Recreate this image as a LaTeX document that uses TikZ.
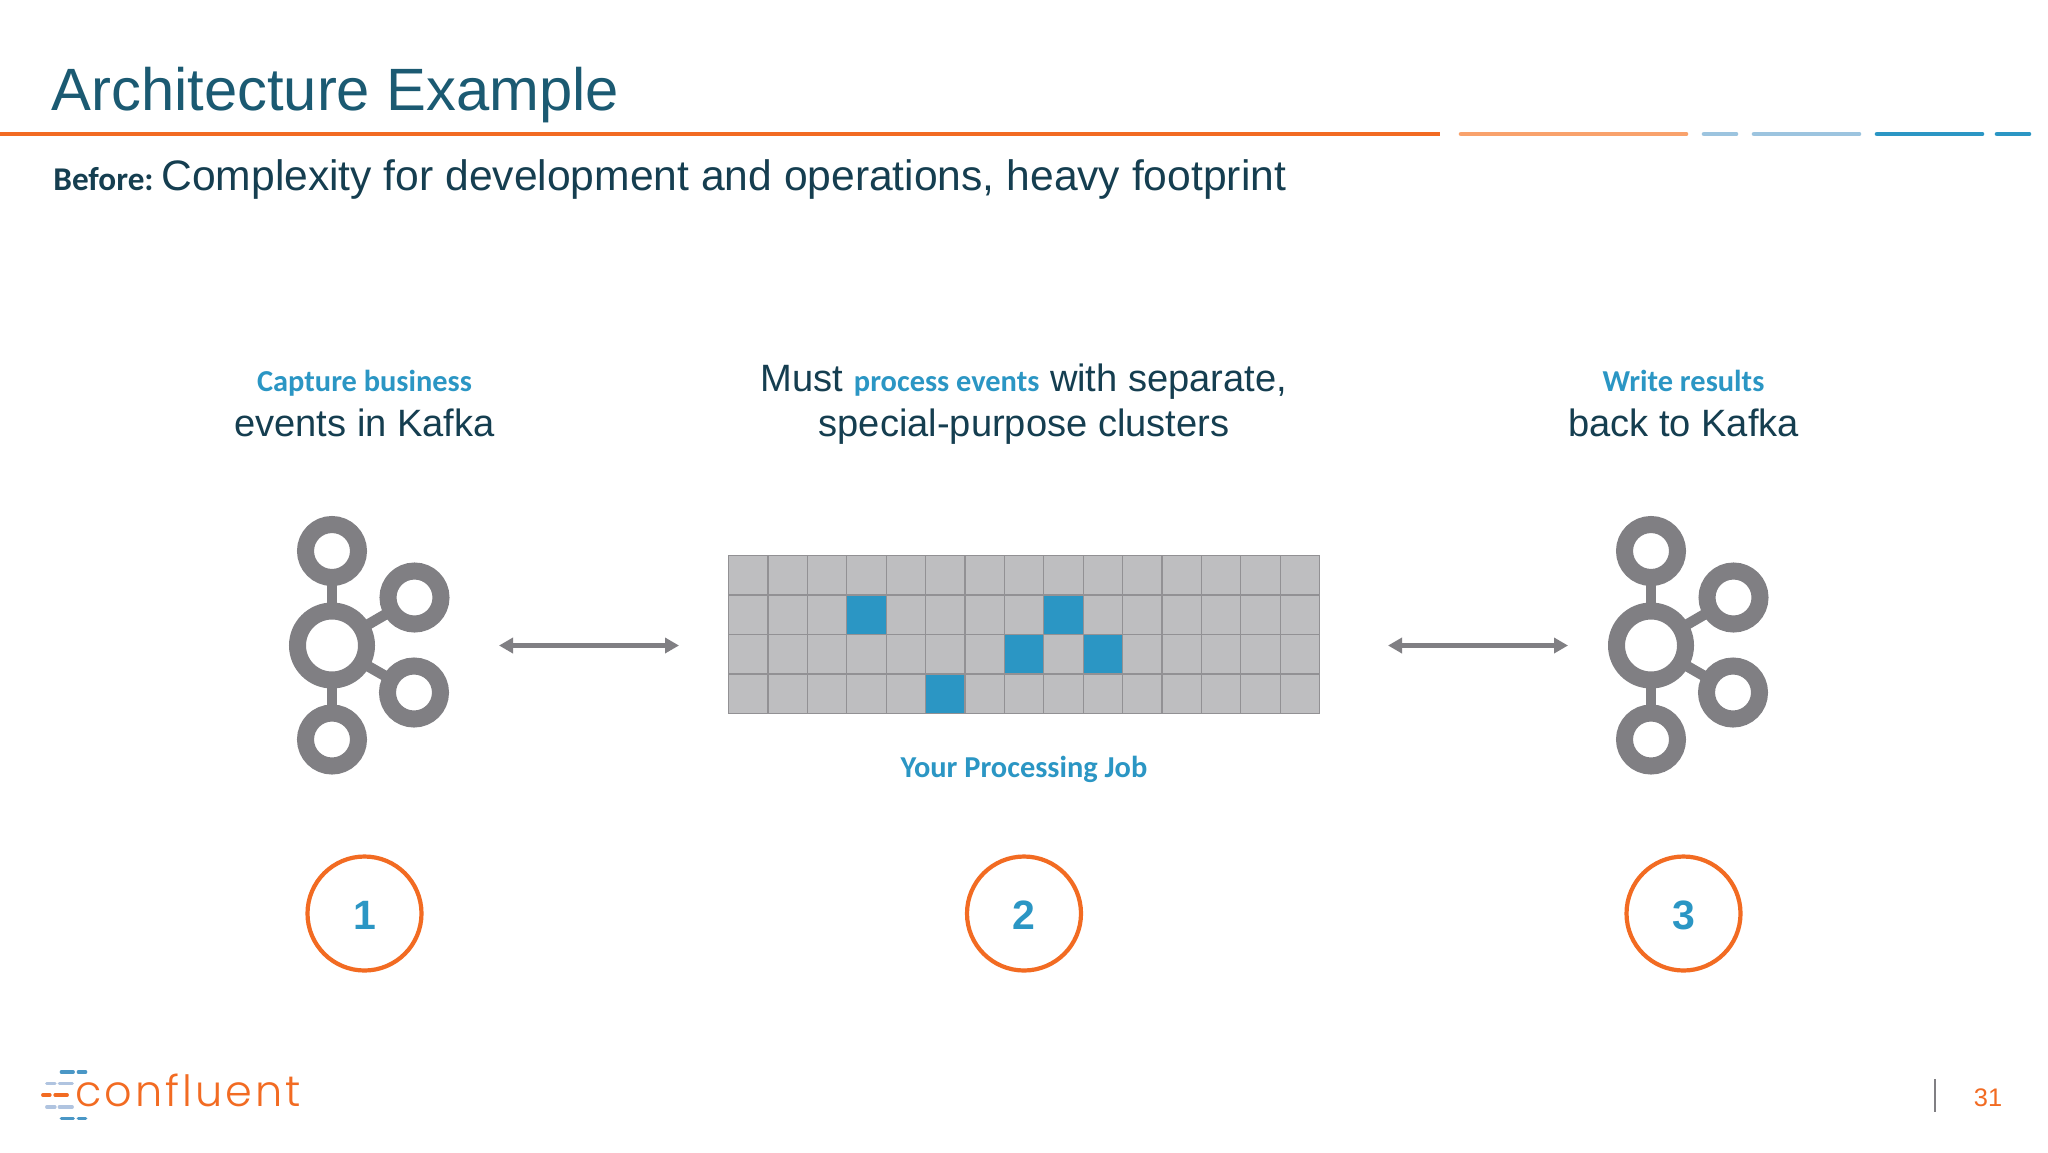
\documentclass[tikz,border=0pt]{standalone}
\usepackage{fontspec}
\setmainfont{Liberation Sans}
\newfontfamily\accentfont{Carlito}
\newfontfamily\logofont[UprightFont=* Light]{Poppins}
\usetikzlibrary{arrows.meta}
\definecolor{titleblue}{HTML}{1B5A72}
\definecolor{darktext}{HTML}{153E50}
\definecolor{accent}{HTML}{2B96C4}
\definecolor{orangeline}{HTML}{F26B22}
\definecolor{lightorange}{HTML}{F9A26C}
\definecolor{lightblue}{HTML}{9CC4DF}
\definecolor{logoblue}{HTML}{4A97C6}
\definecolor{logolight}{HTML}{B0C4E0}
\definecolor{iconline}{HTML}{807F83}
\definecolor{cellfill}{HTML}{BEBEC0}
\definecolor{cellline}{HTML}{929194}
\tikzset{
  ring/.style={circle,draw=iconline,line width=8.5pt,minimum size=26.5pt,inner sep=0pt,fill=white},
  hubring/.style={circle,draw=iconline,line width=8.5pt,minimum size=34.5pt,inner sep=0pt,fill=white},
  link/.style={draw=iconline,line width=5.3pt,shorten >=-2pt,shorten <=-2pt},
  pics/kafka/.style={code={
    \node[hubring] (hub) at (0,0) {};
    \node[ring] (top) at (0,-94.5) {};
    \node[ring] (bot) at (0,94) {};
    \node[ring] (rt) at (82.5,-48) {};
    \node[ring] (rb) at (82,47) {};
    \draw[link] (hub) -- (top);
    \draw[link] (hub) -- (bot);
    \draw[link] (hub) -- (rt);
    \draw[link] (hub) -- (rb);
  }},
  biarrow/.style={draw=iconline,line width=2.2pt,{Triangle[length=7pt,width=7.5pt]}-{Triangle[length=7pt,width=7.5pt]}},
  cell/.style={rectangle,draw=cellline,line width=.6pt,fill=cellfill,minimum width=19.7pt,minimum height=19.75pt,inner sep=0pt,outer sep=0pt},
  hotcell/.style={cell,fill=accent},
  numcircle/.style={circle,draw=orangeline,line width=2.1pt,minimum size=57pt,inner sep=0pt,outer sep=0pt,text=accent,font=\bfseries\fontsize{20.5}{24}\selectfont},
  numlabel/.style={inner sep=0pt,text=accent,font=\bfseries\fontsize{20.5}{24}\selectfont},
  barline/.style={line width=2.3pt,line cap=round},
  logodash/.style={line width=1.6pt,line cap=round},
  heading/.style={align=center,text=darktext,font=\fontsize{19.05}{23}\selectfont,inner sep=0pt},
}
\newcommand{\acc}[1]{{\accentfont\bfseries\color{accent}\fontsize{15.2}{23}\selectfont #1}}
\begin{document}
\begin{tikzpicture}[x=0.5pt,y=-0.5pt]
\useasboundingbox (0,0) rectangle (2048,1152);
\fill[white] (0,0) rectangle (2048,1152);

% title
\node[anchor=base west,inner sep=0pt,text=titleblue,font=\fontsize{29.87}{34}\selectfont] (title) at (51,110) {Architecture Example};
\coordinate (r0) at (0,134);\coordinate (r1) at (1440,134);
\coordinate (r2) at (1461,134);\coordinate (r3) at (1686,134);
\coordinate (r4) at (1704,134);\coordinate (r5) at (1736,134);
\coordinate (r6) at (1754,134);\coordinate (r7) at (1859,134);
\coordinate (r8) at (1877,134);\coordinate (r9) at (1982,134);
\coordinate (r10) at (1997,134);\coordinate (r11) at (2029,134);
\draw[barline,orangeline,line cap=butt] (r0) -- (r1);
\draw[barline,lightorange] (r2) -- (r3);
\draw[barline,lightblue] (r4) -- (r5);
\draw[barline,lightblue] (r6) -- (r7);
\draw[barline,accent] (r8) -- (r9);
\draw[barline,accent] (r10) -- (r11);
\node[anchor=base west,inner sep=0pt,text=darktext,font=\accentfont\bfseries\fontsize{16.6}{20}\selectfont] (before) at (53,190.5) {Before:};
\node[anchor=base west,inner sep=0pt,text=darktext,font=\fontsize{21.3}{25}\selectfont] (sub) at (161,190.5) {Complexity for development and operations, heavy footprint};

% headings
\node[heading,anchor=base] (h1) at (364.5,436.5) {\acc{Capture business}\\[-.6pt]events in Kafka};
\node[heading,anchor=base] (h2) at (1024,436.5) {Must \acc{process events} with separate,\\[-.6pt]special-purpose clusters};
\node[heading,anchor=base] (h3) at (1683.5,436.5) {\acc{Write results}\\[-.6pt]back to Kafka};

% icons
\pic (a) at (332,645.5) {kafka};
\pic (b) at (1651,645.5) {kafka};

% arrows
\coordinate (a1) at (499,645.5);\coordinate (a2) at (679,645.5);
\coordinate (b1) at (1388,645.5);\coordinate (b2) at (1568,645.5);
\draw[biarrow] (a1) -- (a2);
\draw[biarrow] (b1) -- (b2);

% grid
\foreach \r in {0,...,3}
  \foreach \c in {0,...,14}
    \node[cell] (c\r-\c) at ({748.2+39.4*\c},{575.3+39.5*\r}) {};
\foreach \r/\c in {1/3,1/8,2/7,2/9,3/5}
  \node[hotcell] (h\r-\c) at ({748.2+39.4*\c},{575.3+39.5*\r}) {};
\node[anchor=base,inner sep=0pt,font=\accentfont\bfseries\fontsize{15.2}{20}\selectfont,text=accent] (job) at (1024,777.5) {Your Processing Job};

% numbers
\node[numcircle] (n1) at (364.5,913.5) {};
\node[numcircle] (n2) at (1024,913.5) {};
\node[numcircle] (n3) at (1683.5,913.5) {};
\node[numlabel] (l1) at (364.5,915) {1};
\node[numlabel] (l2) at (1024,915) {2};
\node[numlabel] (l3) at (1683.5,915) {3};

% logo
\foreach \y/\col/\ax/\bx/\cx/\dx in {
  1072/logoblue/61.3/73.3/78.3/85.7,
  1083.7/logolight/46.7/55/59.3/72.3,
  1095/orangeline/42.7/50/55/67.3,
  1107/logolight/46.7/55/59.3/72.3,
  1118.7/logoblue/61.3/73.3/78.3/85.7}{
  \draw[logodash,\col] (\ax,\y) -- (\bx,\y);
  \draw[logodash,\col] (\cx,\y) -- (\dx,\y);
}
\node[anchor=base west,inner sep=0pt,text=orangeline,font=\logofont\fontsize{21.5}{24}\selectfont] (logo) at (75,1106) {\addfontfeature{LetterSpace=7}confluent};

% page number
\coordinate (p1) at (1935,1079);\coordinate (p2) at (1935,1112);
\draw[iconline,line width=1pt] (p1) -- (p2);
\node[anchor=base,inner sep=0pt,text=orangeline,font=\fontsize{12.7}{15}\selectfont] (page) at (1988,1106.5) {31};
\end{tikzpicture}
\end{document}
